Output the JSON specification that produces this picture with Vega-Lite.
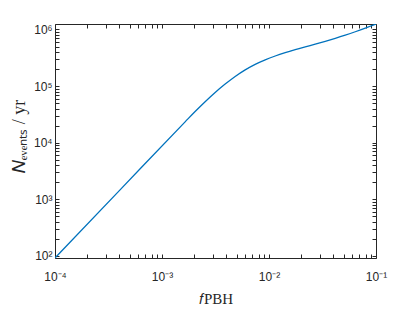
{
  "$schema": "https://vega.github.io/schema/vega-lite/v6.json",
  "width": 321,
  "height": 234,
  "autosize": {"type": "none"},
  "padding": {"left": 55, "top": 24, "right": 39, "bottom": 54},
  "background": "white",
  "config": {
    "view": {"stroke": null},
    "axis": {
      "grid": false,
      "domainColor": "#262626",
      "domainWidth": 1,
      "labelColor": "#262626",
      "labelFont": "Liberation Sans",
      "labelFontSize": 12,
      "labelFlush": false,
      "labelOverlap": false,
      "titleColor": "#262626",
      "titleFont": "Liberation Serif",
      "titleFontWeight": "normal"
    }
  },
  "data": {
    "values": [
      {"f": 0.0001, "N": 92},
      {"f": 0.0004055, "N": 1468},
      {"f": 0.0016446, "N": 23390},
      {"f": 0.002040, "N": 35590},
      {"f": 0.002530, "N": 53060},
      {"f": 0.003139, "N": 77200},
      {"f": 0.003894, "N": 108700},
      {"f": 0.004829, "N": 148200},
      {"f": 0.005989, "N": 193900},
      {"f": 0.007427, "N": 242700},
      {"f": 0.009215, "N": 291500},
      {"f": 0.011429, "N": 340300},
      {"f": 0.014172, "N": 389500},
      {"f": 0.017581, "N": 440000},
      {"f": 0.021814, "N": 493100},
      {"f": 0.027049, "N": 550500},
      {"f": 0.033549, "N": 617100},
      {"f": 0.041615, "N": 697300},
      {"f": 0.051616, "N": 794300},
      {"f": 0.064030, "N": 912400},
      {"f": 0.079414, "N": 1056600},
      {"f": 0.1, "N": 1250000}
    ]
  },
  "layer": [
    {
      "mark": {"type": "line", "color": "#0072BD", "strokeWidth": 1.3, "interpolate": "monotone", "clip": true},
      "encoding": {
        "x": {
          "field": "f", "type": "quantitative",
          "scale": {"type": "log", "domain": [0.0001, 0.1], "nice": false},
          "axis": {
            "orient": "bottom",
            "title": "𝑓PBH",
            "titleFontSize": 15,
            "titlePadding": 9,
            "values": [0.0001,0.0002,0.0003,0.0004,0.0005,0.0006,0.0007,0.0008,0.0009,0.001,0.002,0.003,0.004,0.005,0.006,0.007,0.008,0.009,0.01,0.02,0.03,0.04,0.05,0.06,0.07,0.08,0.09,0.1],
            "labelExpr": "datum.value == 0.0001 ? '10⁻⁴' : datum.value == 0.001 ? '10⁻³' : datum.value == 0.01 ? '10⁻²' : datum.value == 0.1 ? '10⁻¹' : ''",
            "ticks": true,
            "tickColor": "#262626",
            "tickWidth": 1,
            "tickSize": -4,
            "labelPadding": 17
          }
        },
        "y": {
          "field": "N", "type": "quantitative",
          "scale": {"type": "log", "domain": [92, 1250000], "nice": false},
          "axis": {
            "orient": "left",
            "title": "𝑁ₑᵥₑₙₜₛ / yr",
            "titleFontSize": 18,
            "titlePadding": 5,
            "titleY": 112,
            "values": [100,200,300,400,500,600,700,800,900,1000,2000,3000,4000,5000,6000,7000,8000,9000,10000,20000,30000,40000,50000,60000,70000,80000,90000,100000,200000,300000,400000,500000,600000,700000,800000,900000,1000000],
            "labelExpr": "datum.value == 100 ? '10²' : datum.value == 1000 ? '10³' : datum.value == 10000 ? '10⁴' : datum.value == 100000 ? '10⁵' : datum.value == 1000000 ? '10⁶' : ''",
            "ticks": true,
            "tickColor": "#262626",
            "tickWidth": 1,
            "tickSize": -4,
            "labelPadding": 7
          }
        }
      }
    },
    {
      "mark": {"type": "line", "opacity": 0},
      "encoding": {
        "x": {
          "field": "f", "type": "quantitative",
          "scale": {"type": "log", "domain": [0.0001, 0.1], "nice": false},
          "axis": {
            "orient": "top", "title": null, "labels": false,
            "values": [0.0001,0.0002,0.0003,0.0004,0.0005,0.0006,0.0007,0.0008,0.0009,0.001,0.002,0.003,0.004,0.005,0.006,0.007,0.008,0.009,0.01,0.02,0.03,0.04,0.05,0.06,0.07,0.08,0.09,0.1],
            "ticks": true, "tickColor": "#262626", "tickWidth": 1, "tickSize": -4
          }
        },
        "y": {
          "field": "N", "type": "quantitative",
          "scale": {"type": "log", "domain": [92, 1250000], "nice": false},
          "axis": {
            "orient": "right", "title": null, "labels": false,
            "values": [100,200,300,400,500,600,700,800,900,1000,2000,3000,4000,5000,6000,7000,8000,9000,10000,20000,30000,40000,50000,60000,70000,80000,90000,100000,200000,300000,400000,500000,600000,700000,800000,900000,1000000],
            "ticks": true, "tickColor": "#262626", "tickWidth": 1, "tickSize": -4
          }
        }
      }
    }
  ],
  "resolve": {"axis": {"x": "independent", "y": "independent"}}
}
